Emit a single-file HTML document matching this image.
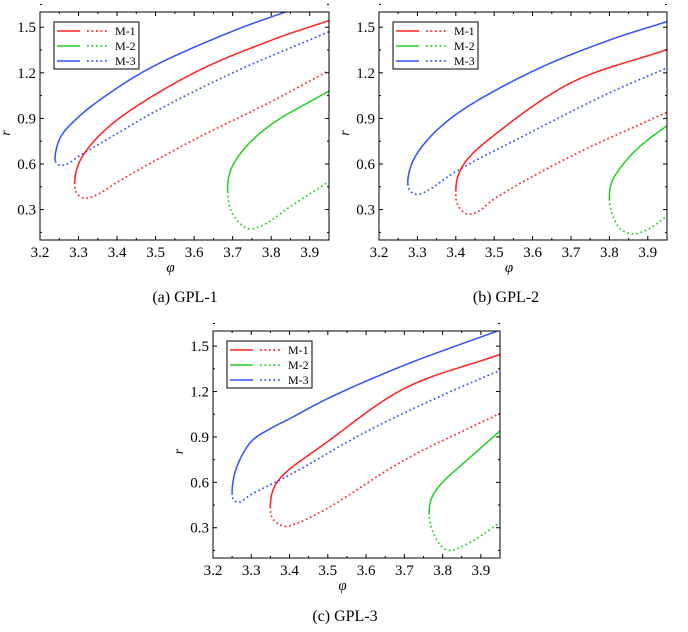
<!DOCTYPE html>
<html><head><meta charset="utf-8">
<style>body{margin:0;background:#fff;}svg{display:block;font-family:"Liberation Serif",serif;}</style>
</head><body>
<svg id="s" width="688" height="632" xmlns="http://www.w3.org/2000/svg">
<text x="185" y="302" font-size="16" text-anchor="middle">(a) GPL-1</text>
<text x="506" y="302" font-size="16" text-anchor="middle">(b) GPL-2</text>
<text x="345" y="621" font-size="16" text-anchor="middle">(c) GPL-3</text>
</svg>
<script>
const S=document.getElementById('s');const NS='http://www.w3.org/2000/svg';
function el(t,a,txt){const e=document.createElementNS(NS,t);for(const k in a)e.setAttribute(k,a[k]);if(txt!==undefined)e.textContent=txt;S.appendChild(e);return e;}
const panels=[
{L:40,T:12,W:289,H:228,c:[
 ['#3050ff',[[3.24,0.62],[3.252,0.77],[3.3,0.91],[3.4,1.1],[3.5,1.25],[3.7,1.474],[3.87,1.63]],[[3.24,0.62],[3.25,0.593],[3.27,0.6],[3.3,0.65],[3.4,0.8],[3.5,0.947],[3.7,1.2],[3.95,1.47]]],
 ['#ff2020',[[3.29,0.48],[3.3,0.6],[3.33,0.72],[3.4,0.89],[3.6,1.2],[3.8,1.414],[3.95,1.544]],[[3.29,0.48],[3.295,0.41],[3.315,0.375],[3.35,0.4],[3.4,0.48],[3.6,0.76],[3.8,1.01],[3.95,1.215]]],
 ['#20d020',[[3.687,0.42],[3.695,0.56],[3.73,0.7],[3.8,0.86],[3.95,1.08]],[[3.687,0.42],[3.7,0.27],[3.74,0.175],[3.78,0.2],[3.85,0.32],[3.95,0.486]]]]},
{L:379,T:12,W:288,H:228,c:[
 ['#3050ff',[[3.275,0.47],[3.285,0.60],[3.32,0.74],[3.4,0.925],[3.6,1.21],[3.8,1.415],[3.95,1.537]],[[3.275,0.47],[3.282,0.42],[3.3,0.4],[3.33,0.43],[3.4,0.55],[3.6,0.815],[3.8,1.068],[3.95,1.232]]],
 ['#ff2020',[[3.40,0.43],[3.407,0.53],[3.43,0.63],[3.5,0.79],[3.7,1.134],[3.95,1.353]],[[3.40,0.43],[3.405,0.33],[3.43,0.27],[3.46,0.29],[3.5,0.37],[3.7,0.651],[3.95,0.94]]],
 ['#20d020',[[3.80,0.37],[3.806,0.48],[3.83,0.58],[3.88,0.717],[3.95,0.853]],[[3.80,0.37],[3.81,0.25],[3.83,0.17],[3.86,0.14],[3.9,0.17],[3.95,0.256]]]]},
{L:213,T:331,W:287,H:227,c:[
 ['#3050ff',[[3.25,0.53],[3.26,0.686],[3.3,0.87],[3.35,0.955],[3.4,1.02],[3.5,1.154],[3.7,1.374],[3.95,1.606]],[[3.25,0.53],[3.255,0.48],[3.27,0.47],[3.3,0.52],[3.4,0.648],[3.6,0.934],[3.8,1.176],[3.95,1.34]]],
 ['#ff2020',[[3.35,0.44],[3.357,0.55],[3.38,0.64],[3.5,0.87],[3.7,1.22],[3.95,1.445]],[[3.35,0.44],[3.356,0.36],[3.385,0.31],[3.42,0.33],[3.5,0.43],[3.7,0.747],[3.95,1.055]]],
 ['#20d020',[[3.765,0.40],[3.772,0.5],[3.8,0.6],[3.87,0.76],[3.95,0.94]],[[3.765,0.40],[3.775,0.27],[3.8,0.17],[3.82,0.15],[3.87,0.2],[3.95,0.333]]]]}
];
function ccr(P){
 const n=P.length;const pts=[[2*P[0][0]-P[1][0],2*P[0][1]-P[1][1]],...P,[2*P[n-1][0]-P[n-2][0],2*P[n-1][1]-P[n-2][1]]];
 const out=[],seg=[];
 for(let i=1;i<pts.length-2;i++){
  const p0=pts[i-1],p1=pts[i],p2=pts[i+1],p3=pts[i+2];
  const tj=(a,b,t)=>t+Math.pow(Math.hypot(b[0]-a[0],b[1]-a[1])+1e-6,0.5);
  const t0=0,t1=tj(p0,p1,t0),t2=tj(p1,p2,t1),t3=tj(p2,p3,t2);
  for(let s=0;s<=40;s++){const t=t1+(t2-t1)*s/40;
   const L=(a,b,ta,tb)=>[ (tb-t)/(tb-ta)*a[0]+(t-ta)/(tb-ta)*b[0],(tb-t)/(tb-ta)*a[1]+(t-ta)/(tb-ta)*b[1]];
   const A1=L(p0,p1,t0,t1),A2=L(p1,p2,t1,t2),A3=L(p2,p3,t2,t3);
   const B1=L(A1,A2,t0,t2),B2=L(A2,A3,t1,t3);out.push(L(B1,B2,t1,t2));seg.push(i-1);}
 }return [out,seg];}
panels.forEach((p,pi)=>{
 const X=v=>p.L+(v-3.2)/0.75*p.W, Y=v=>p.T+p.H-(v-0.1)/1.5*p.H;
 const cid='cp'+pi;const cp=el('clipPath',{id:cid});const r=document.createElementNS(NS,'rect');
 r.setAttribute('x',p.L);r.setAttribute('y',p.T);r.setAttribute('width',p.W);r.setAttribute('height',p.H);cp.appendChild(r);
 p.c.forEach(c=>{
  const low=c[2].slice().reverse(); const nl=low.length-1;
  const all=low.concat(c[1].slice(1)).map(q=>[X(q[0]),Y(q[1])]);
  const [pts,seg]=ccr(all);
  const dot=pts.filter((q,i)=>seg[i]<nl), sol=pts.filter((q,i)=>seg[i]>=nl);
  const d=a=>'M'+a.map(q=>q[0].toFixed(2)+','+q[1].toFixed(2)).join(' L');
  el('path',{d:d(sol),fill:'none',stroke:c[0],'stroke-width':1.5,'clip-path':`url(#${cid})`});
  el('path',{d:d(dot.reverse()),fill:'none',stroke:c[0],'stroke-width':1.7,'stroke-dasharray':'1.7 2.8','clip-path':`url(#${cid})`});
 });
 el('rect',{x:p.L,y:p.T,width:p.W,height:p.H,fill:'none',stroke:'#000','stroke-width':1});
 for(let i=0;i<=15;i++){const v=3.2+i*0.05;const x=X(v);const maj=i%2==0;const l=maj?4:2;
  el('line',{x1:x,y1:p.T+p.H,x2:x,y2:p.T+p.H-l,stroke:'#000'});el('line',{x1:x,y1:p.T,x2:x,y2:p.T+l,stroke:'#000'});
  if(maj&&i<15)el('text',{x:x,y:p.T+p.H+17,'font-size':15,'text-anchor':'middle'},v.toFixed(1));}
 for(let i=0;i<=10;i++){const v=0.15+i*0.15;const y=Y(v);const maj=i%2==1;const l=maj?4:2;
  el('line',{x1:p.L,y1:y,x2:p.L+l,y2:y,stroke:'#000'});el('line',{x1:p.L+p.W,y1:y,x2:p.L+p.W-l,y2:y,stroke:'#000'});
  if(maj)el('text',{x:p.L-4,y:y+5,'font-size':15,'text-anchor':'end'},v.toFixed(1));}
 el('text',{x:p.L+p.W/2-14,y:p.T+p.H+32,'font-size':15,'font-style':'italic','text-anchor':'middle'},'φ');
 el('text',{x:0,y:0,'font-size':14,'font-style':'italic','text-anchor':'middle',transform:`translate(${p.L-30},${p.T+p.H/2+7}) rotate(-90)`},'r');
 const lx=p.L+14,ly=p.T+10;
 el('rect',{x:lx,y:ly,width:85,height:47,fill:'#fff',stroke:'#000','stroke-width':1});
 [['#ff2020','M-1'],['#20d020','M-2'],['#3050ff','M-3']].forEach((q,k)=>{const y=ly+9+k*15;
  el('line',{x1:lx+3,y1:y,x2:lx+26,y2:y,stroke:q[0],'stroke-width':1.5});
  el('line',{x1:lx+33,y1:y,x2:lx+55,y2:y,stroke:q[0],'stroke-width':1.7,'stroke-dasharray':'1.7 2.8'});
  el('text',{x:lx+61,y:y+4,'font-size':12},q[1]);});
});
</script>
</body></html>
